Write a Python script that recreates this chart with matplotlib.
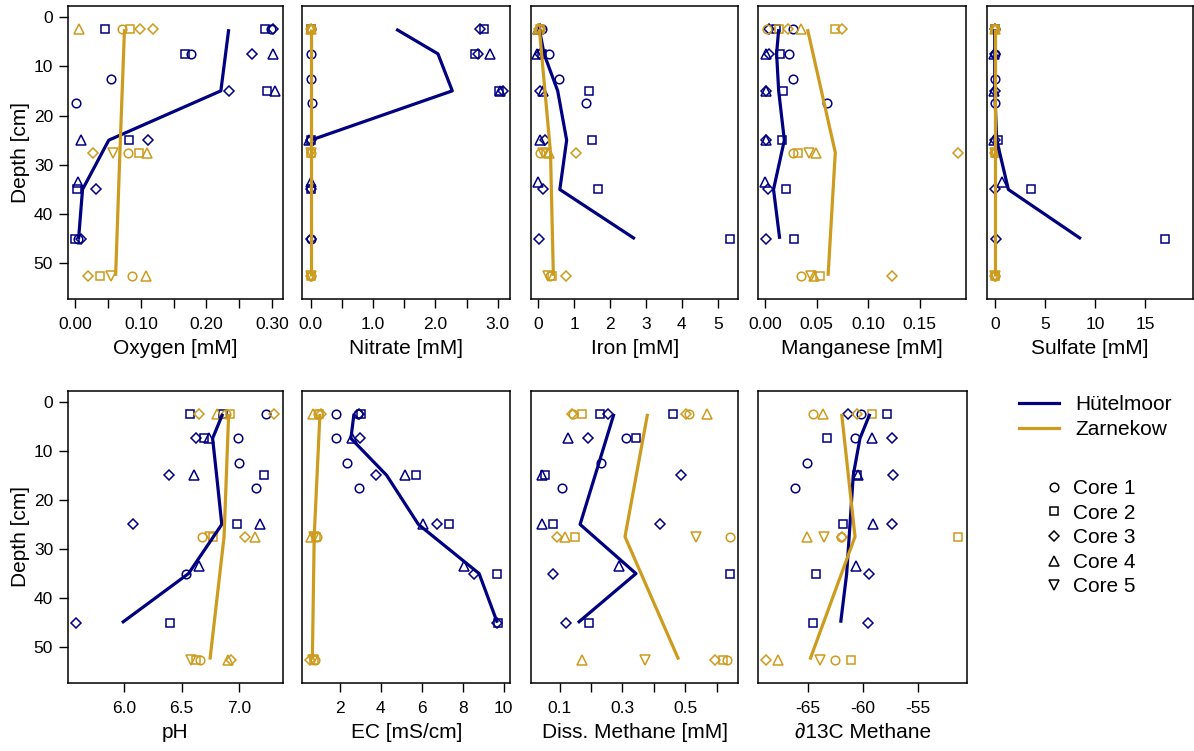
import numpy as np
import matplotlib
matplotlib.use('Agg')
from matplotlib import pyplot as plt
from matplotlib.lines import Line2D

plt.rcParams['font.family'] = ['Liberation Sans', 'DejaVu Sans']

# (core, depth cm, value) for each site
hm_line_depth = [2.5, 7.5, 15, 25, 35, 45]
zk_line_depth = [2.5, 27.5, 52.5]

ox_hm = [(2, 2.5, 0.046), (2, 2.5, 0.289), (1, 2.5, 0.299), (3, 2.5, 0.301),
         (2, 7.5, 0.168), (1, 7.5, 0.177), (3, 7.5, 0.270), (4, 7.5, 0.302),
         (1, 12.5, 0.054), (3, 15, 0.234), (2, 15, 0.292), (4, 15, 0.304),
         (1, 17.5, 0.0015), (4, 25, 0.009), (2, 25, 0.082), (3, 25, 0.111),
         (4, 33.5, 0.004), (2, 35, 0.0025), (3, 35, 0.032),
         (2, 45, 0.0), (1, 45, 0.004), (3, 45, 0.009)]
ox_zk = [(4, 2.5, 0.006), (1, 2.5, 0.071), (2, 2.5, 0.083), (3, 2.5, 0.099), (3, 2.5, 0.119),
         (3, 27.5, 0.027), (5, 27.5, 0.057), (1, 27.5, 0.080), (2, 27.5, 0.097), (4, 27.5, 0.109),
         (3, 52.5, 0.019), (2, 52.5, 0.038), (5, 52.5, 0.055), (1, 52.5, 0.087), (4, 52.5, 0.108)]
ox_hm_depth = [2.5, 15, 25, 35, 45]
ox_hm_line = [0.234, 0.222, 0.051, 0.011, 0.005]
ox_zk_line = [0.075, 0.068, 0.0615]

no3_hm = [(1, 2.5, 0.0), (2, 2.5, 0.01), (3, 2.5, 2.71), (2, 2.5, 2.78),
          (1, 7.5, 0.0), (2, 7.5, 2.64), (3, 7.5, 2.69), (4, 7.5, 2.87),
          (1, 12.5, 0.0), (2, 15, 3.02), (4, 15, 3.04), (3, 15, 3.08),
          (1, 17.5, 0.02), (4, 25, -0.02), (3, 25, 0.0), (2, 25, 0.01),
          (4, 33.5, 0.0), (2, 35, 0.0), (3, 35, 0.0), (1, 45, 0.0), (3, 45, 0.0)]
no3_zk = [(4, 2.5, 0.0), (1, 2.5, 0.0), (2, 2.5, 0.01), (3, 2.5, 0.0),
          (1, 27.5, 0.0), (2, 27.5, 0.0), (5, 27.5, 0.0),
          (1, 52.5, 0.0), (2, 52.5, 0.0), (3, 52.5, 0.0), (5, 52.5, 0.0)]
no3_hm_depth = [2.5, 7.5, 15, 25]
no3_hm_line = [1.37, 2.04, 2.27, 0.0]
no3_zk_line = [0.0, 0.0, 0.0]

fe_hm = [(4, 2.5, 0.0), (3, 2.5, 0.05), (1, 2.5, 0.09),
         (4, 7.5, -0.03), (3, 7.5, 0.05), (2, 7.5, 0.1), (1, 7.5, 0.31),
         (1, 12.5, 0.58), (3, 15, 0.05), (4, 15, 0.14), (2, 15, 1.41),
         (1, 17.5, 1.34), (4, 25, 0.05), (3, 25, 0.19), (2, 25, 1.50),
         (4, 33.5, 0.0), (3, 35, 0.14), (2, 35, 1.67), (3, 45, 0.02), (2, 45, 5.34)]
fe_zk = [(4, 2.5, 0.0), (3, 2.5, 0.03), (1, 2.5, 0.06), (2, 2.5, 0.05),
         (1, 27.5, 0.06), (5, 27.5, 0.14), (2, 27.5, 0.22), (4, 27.5, 0.31), (3, 27.5, 1.04),
         (5, 52.5, 0.27), (1, 52.5, 0.32), (2, 52.5, 0.37), (3, 52.5, 0.78)]
fe_hm_line = [0.03, 0.16, 0.54, 0.79, 0.60, 2.69]
fe_zk_line = [0.03, 0.34, 0.42]

mn_hm = [(3, 2.5, 0.004), (2, 2.5, 0.010), (1, 2.5, 0.027),
         (4, 7.5, 0.001), (3, 7.5, 0.004), (2, 7.5, 0.014), (1, 7.5, 0.023),
         (1, 12.5, 0.027), (4, 15, 0.001), (3, 15, 0.001), (2, 15, 0.0175),
         (1, 17.5, 0.060), (4, 25, 0.001), (3, 25, 0.001), (2, 25, 0.0165),
         (4, 33.5, 0.0), (3, 35, 0.003), (2, 35, 0.020), (3, 45, 0.001), (2, 45, 0.0275)]
mn_zk = [(1, 2.5, 0.002), (2, 2.5, 0.013), (3, 2.5, 0.022), (4, 2.5, 0.035), (2, 2.5, 0.068), (3, 2.5, 0.075),
         (1, 27.5, 0.027), (2, 27.5, 0.032), (5, 27.5, 0.042), (4, 27.5, 0.049), (3, 27.5, 0.1876),
         (1, 52.5, 0.035), (5, 52.5, 0.044), (4, 52.5, 0.047), (2, 52.5, 0.053), (3, 52.5, 0.123)]
mn_hm_line = [0.013, 0.011, 0.013, 0.0185, 0.008, 0.014]
mn_zk_line = [0.041, 0.068, 0.061]

so4_hm = [(1, 2.5, 0.0), (2, 2.5, 0.05), (3, 2.5, 0.0),
          (4, 7.5, -0.1), (3, 7.5, 0.0), (1, 7.5, 0.05), (1, 12.5, 0.0),
          (4, 15, -0.1), (3, 15, 0.0), (1, 17.5, 0.0),
          (4, 25, -0.1), (3, 25, 0.05), (2, 25, 0.3), (4, 33.5, 0.7),
          (3, 35, 0.0), (2, 35, 3.6), (3, 45, 0.1), (2, 45, 17.0)]
so4_zk = [(4, 2.5, 0.0), (1, 2.5, 0.0), (2, 2.5, 0.05), (3, 2.5, 0.0),
          (1, 27.5, 0.0), (2, 27.5, 0.05), (5, 27.5, 0.0), (3, 27.5, 0.0),
          (1, 52.5, 0.0), (2, 52.5, 0.05), (3, 52.5, 0.0), (5, 52.5, 0.0)]
so4_hm_line = [0.0, 0.0, 0.0, 0.2, 1.36, 8.6]
so4_zk_line = [0.0, 0.0, 0.0]

ph_hm = [(2, 2.5, 6.576), (2, 2.5, 6.858), (1, 2.5, 7.235),
         (3, 7.5, 6.622), (2, 7.5, 6.698), (4, 7.5, 6.738), (1, 7.5, 6.994),
         (1, 12.5, 7.0), (3, 15, 6.39), (4, 15, 6.608), (2, 15, 7.221),
         (1, 17.5, 7.148), (3, 25, 6.078), (2, 25, 6.98), (4, 25, 7.183),
         (4, 33.5, 6.65), (1, 35, 6.535), (3, 45, 5.58), (2, 45, 6.395)]
ph_zk = [(3, 2.5, 6.648), (4, 2.5, 6.811), (1, 2.5, 6.887), (2, 2.5, 6.922), (3, 2.5, 7.305),
         (1, 27.5, 6.674), (5, 27.5, 6.747), (2, 27.5, 6.776), (3, 27.5, 7.052), (4, 27.5, 7.142),
         (5, 52.5, 6.578), (2, 52.5, 6.625), (1, 52.5, 6.66), (4, 52.5, 6.907), (3, 52.5, 6.93)]
ph_hm_line = [6.858, 6.77, 6.805, 6.85, 6.56, 5.98]
ph_zk_line = [6.91, 6.87, 6.747]

ec_hm = [(1, 2.5, 1.80), (1, 2.5, 2.91), (2, 2.5, 3.02), (3, 2.5, 2.95),
         (1, 7.5, 1.80), (4, 7.5, 2.59), (3, 7.5, 3.0), (1, 12.5, 2.34),
         (3, 15, 3.79), (4, 15, 5.2), (2, 15, 5.72), (1, 17.5, 2.93),
         (4, 25, 6.08), (3, 25, 6.76), (2, 25, 7.32), (4, 33.5, 8.07),
         (3, 35, 8.55), (2, 35, 9.69), (3, 45, 9.66), (2, 45, 9.74)]
ec_zk = [(4, 2.5, 0.72), (1, 2.5, 0.95), (2, 2.5, 1.0), (3, 2.5, 1.08),
         (4, 27.5, 0.62), (5, 27.5, 0.75), (1, 27.5, 0.88), (2, 27.5, 0.85),
         (3, 52.5, 0.55), (5, 52.5, 0.68), (1, 52.5, 0.8), (2, 52.5, 0.75)]
ec_hm_line = [2.70, 2.55, 4.29, 5.84, 8.80, 9.69]
ec_zk_line = [1.04, 0.76, 0.67]

ch4_hm = [(2, 2.5, 0.229), (3, 2.5, 0.254), (2, 2.5, 0.462),
          (4, 7.5, 0.125), (3, 7.5, 0.191), (1, 7.5, 0.311), (2, 7.5, 0.343),
          (1, 12.5, 0.232), (4, 15, 0.043), (2, 15, 0.052), (3, 15, 0.487),
          (1, 17.5, 0.106), (4, 25, 0.045), (2, 25, 0.080), (3, 25, 0.42),
          (4, 33.5, 0.29), (3, 35, 0.080), (2, 35, 0.643), (3, 45, 0.121), (2, 45, 0.194)]
ch4_zk = [(3, 2.5, 0.14), (1, 2.5, 0.143), (2, 2.5, 0.17), (3, 2.5, 0.501), (1, 2.5, 0.513), (4, 2.5, 0.57),
          (3, 27.5, 0.093), (4, 27.5, 0.117), (2, 27.5, 0.149), (5, 27.5, 0.534), (1, 27.5, 0.643),
          (4, 52.5, 0.171), (5, 52.5, 0.373), (3, 52.5, 0.594), (2, 52.5, 0.621), (1, 52.5, 0.632)]
ch4_hm_depth = [2.5, 25, 35, 45]
ch4_hm_line = [0.273, 0.165, 0.343, 0.158]
ch4_zk_line = [0.38, 0.308, 0.479]

d13c_hm = [(3, 2.5, -61.4), (1, 2.5, -60.2), (2, 2.5, -57.86),
           (2, 7.5, -63.27), (1, 7.5, -60.74), (4, 7.5, -59.22), (3, 7.5, -57.37),
           (1, 12.5, -65.15), (2, 15, -60.53), (4, 15, -60.5), (3, 15, -57.31),
           (1, 17.5, -66.19), (2, 25, -61.87), (4, 25, -59.13), (3, 25, -57.37),
           (4, 33.5, -60.65), (2, 35, -64.27), (3, 35, -59.44), (2, 45, -64.6), (3, 45, -59.56)]
d13c_zk = [(1, 2.5, -64.6), (4, 2.5, -63.7), (3, 2.5, -60.6), (2, 2.5, -59.16),
           (4, 27.5, -65.15), (5, 27.5, -63.57), (1, 27.5, -62.05), (3, 27.5, -61.96), (2, 27.5, -51.32),
           (3, 52.5, -68.86), (4, 52.5, -67.74), (5, 52.5, -63.94), (1, 52.5, -62.57), (2, 52.5, -61.14)]
d13c_hm_line = [-59.38, -60.29, -60.9, -61.2, -61.5, -62.05]
d13c_zk_line = [-61.96, -60.74, -64.85]

site_names = ['Hütelmoor', 'Zarnekow']
core_names = ['Core 1', 'Core 2', 'Core 3', 'Core 4', 'Core 5']

navy = '#000080'
gold = '#CD9B1D'
markers = {1: 'o', 2: 's', 3: 'D', 4: '^', 5: 'v'}
msizes = {1: 6.2, 2: 5.6, 3: 5.0, 4: 7.4, 5: 7.4}

W, H = 1194, 751
fig = plt.figure(figsize=(W / 100, H / 100), dpi=100)


def panel(l, r, t, b, hm_pts, zk_pts, hm_dep, hm_line, zk_line,
          xlim, ticks, labels, xlabel, ylab=False):
    ax = fig.add_axes([l / W, 1 - b / H, (r - l) / W, (b - t) / H])
    for pts, col in ((hm_pts, navy), (zk_pts, gold)):
        for core in range(1, 6):
            xs = [p[2] for p in pts if p[0] == core]
            ys = [p[1] for p in pts if p[0] == core]
            if xs:
                ax.plot(xs, ys, ls='none', marker=markers[core], ms=msizes[core],
                        mfc='none', mec=col, mew=1.1)
    ax.plot(hm_line, hm_dep, color=navy, lw=2.3, solid_capstyle='butt')
    ax.plot(zk_line, zk_line_depth, color=gold, lw=2.3, solid_capstyle='butt')
    ax.set_xlim(xlim)
    ax.set_ylim(57.2, -2.2)
    ax.set_xticks(ticks)
    ax.set_xticklabels(labels)
    ax.tick_params(direction='out', length=6.5, width=1, labelsize=12.5, pad=6.5)
    for s in ax.spines.values():
        s.set_linewidth(1.1)
    ax.set_xlabel(xlabel, fontsize=15, labelpad=5)
    if ylab:
        ax.set_yticks([0, 10, 20, 30, 40, 50])
        ax.set_ylabel('Depth [cm]', fontsize=15, labelpad=3)
        ax.tick_params(axis='y', pad=4)
    else:
        ax.set_yticks([])
    return ax


# top row
t1, b1 = 6, 299
panel(67.7, 282.7, t1, b1, ox_hm, ox_zk, ox_hm_depth, ox_hm_line, ox_zk_line,
      (-0.0116, 0.3163), [0, 0.05, 0.1, 0.15, 0.2, 0.25, 0.3],
      ['0.00', '', '0.10', '', '0.20', '', '0.30'], 'Oxygen [mM]', ylab=True)
panel(302.3, 510.3, t1, b1, no3_hm, no3_zk, no3_hm_depth, no3_hm_line, no3_zk_line,
      (-0.135, 3.2), [0, 0.5, 1, 1.5, 2, 2.5, 3],
      ['0.0', '', '1.0', '', '2.0', '', '3.0'], 'Nitrate [mM]')
panel(531, 738.3, t1, b1, fe_hm, fe_zk, hm_line_depth, fe_hm_line, fe_zk_line,
      (-0.203, 5.57), [0, 1, 2, 3, 4, 5],
      ['0', '1', '2', '3', '4', '5'], 'Iron [mM]')
panel(758.3, 966.3, t1, b1, mn_hm, mn_zk, hm_line_depth, mn_hm_line, mn_zk_line,
      (-0.0068, 0.1953), [0, 0.05, 0.1, 0.15],
      ['0.00', '0.05', '0.10', '0.15'], 'Manganese [mM]')
panel(986.7, 1193.3, t1, b1, so4_hm, so4_zk, hm_line_depth, so4_hm_line, so4_zk_line,
      (-0.8, 19.8), [0, 5, 10, 15],
      ['0', '5', '10', '15'], 'Sulfate [mM]')

# bottom row
t2, b2 = 390.7, 682.7
panel(67.7, 282.7, t2, b2, ph_hm, ph_zk, hm_line_depth, ph_hm_line, ph_zk_line,
      (5.507, 7.381), [6.0, 6.5, 7.0],
      ['6.0', '6.5', '7.0'], 'pH', ylab=True)
panel(302.3, 510.3, t2, b2, ec_hm, ec_zk, hm_line_depth, ec_hm_line, ec_zk_line,
      (0.18, 10.32), [2, 4, 6, 8, 10],
      ['2', '4', '6', '8', '10'], 'EC [mS/cm]')
panel(531, 738.3, t2, b2, ch4_hm, ch4_zk, ch4_hm_depth, ch4_hm_line, ch4_zk_line,
      (0.0086, 0.669), [0.1, 0.2, 0.3, 0.4, 0.5, 0.6],
      ['0.1', '', '0.3', '', '0.5', ''], 'Diss. Methane [mM]')
panel(758.3, 967, t2, b2, d13c_hm, d13c_zk, hm_line_depth, d13c_hm_line, d13c_zk_line,
      (-69.56, -50.53), [-65, -60, -55],
      ['-65', '-60', '-55'], '\u220213C Methane')

# legends
site_handles = [Line2D([], [], color=navy, lw=2.3), Line2D([], [], color=gold, lw=2.3)]
fig.legend(site_handles, site_names, loc='upper left',
           bbox_to_anchor=(1019 / W, 1 - 395 / H), frameon=False, fontsize=15,
           borderpad=0, borderaxespad=0, handlelength=1.9, handletextpad=0.8,
           labelspacing=0.3)
core_handles = [Line2D([], [], ls='none', marker=markers[c], ms=msizes[c], mfc='none',
                       mec='black', mew=1.1) for c in range(1, 6)]
fig.legend(core_handles, core_names, loc='upper left',
           bbox_to_anchor=(1044 / W, 1 - 479 / H), frameon=False, fontsize=15,
           borderpad=0, borderaxespad=0, handlelength=1.0, handletextpad=0.4,
           labelspacing=0.27)

fig.savefig('out.png', dpi=100)
